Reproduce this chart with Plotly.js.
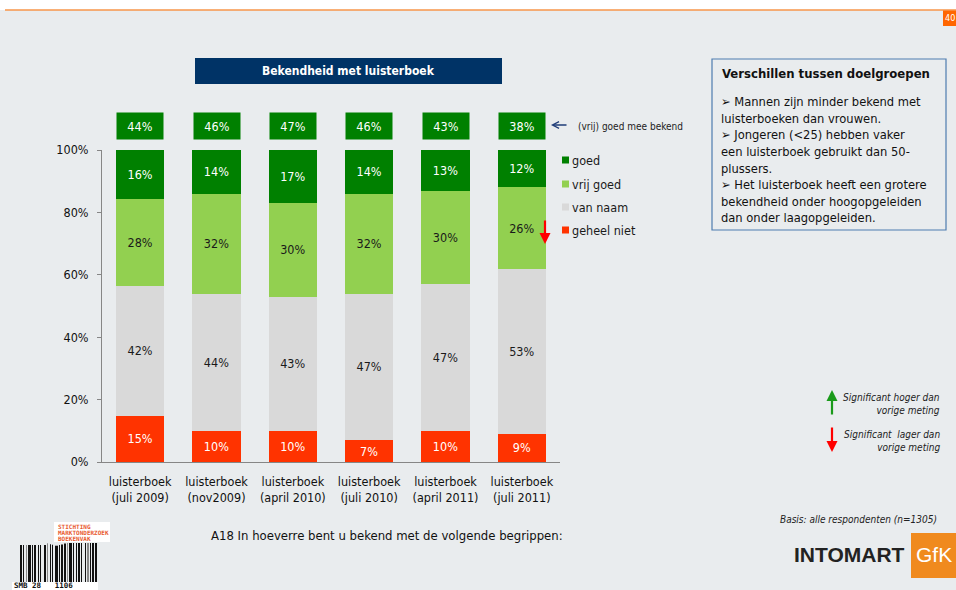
<!DOCTYPE html>
<html><head><meta charset="utf-8">
<script src="https://cdn.plot.ly/plotly-3.0.1.min.js"></script>
<style>html,body{margin:0;padding:0;background:#e9ecee;}#chart{width:956px;height:590px;}</style>
</head><body><div id="chart"></div>
<script>
// ---- data ----
const categories = ['luisterboek<br>(juli 2009)', 'luisterboek<br>(nov2009)', 'luisterboek<br>(april 2010)',
                    'luisterboek<br>(juli 2010)', 'luisterboek<br>(april 2011)', 'luisterboek<br>(juli 2011)'];
const geheelNiet = [15, 10, 10, 7, 10, 9];
const vanNaam    = [42, 44, 43, 47, 47, 53];
const vrijGoed   = [28, 32, 30, 32, 30, 26];
const goed       = [16, 14, 17, 14, 13, 12];
const seriesNames  = ['geheel niet', 'van naam', 'vrij goed', 'goed'];
const seriesValues = [geheelNiet, vanNaam, vrijGoed, goed];
const seriesColors = ['#ff3300', '#d9d9d9', '#92d050', '#008000'];
const textColors   = ['#ffffff', '#1a1a1a', '#1a1a1a', '#ffffff'];
const totals = goed.map((g, i) => g + vrijGoed[i]);   // (vrij) goed mee bekend
const yTickVals = [0, 20, 40, 60, 80, 100];
const yTickText = ['0%', '20%', '40%', '60%', '80%', '100%'];
const bullets = [
  '➢ Mannen zijn minder bekend met', 'luisterboeken dan vrouwen.',
  '➢ Jongeren (&lt;25) hebben vaker', 'een luisterboek gebruikt dan 50-', 'plussers.',
  '➢ Het luisterboek heeft een grotere', 'bekendheid onder hoogopgeleiden', 'dan onder laagopgeleiden.'
];

// ---- helpers (pixel -> paper) ----
const L = 102, R = 560, T = 150, B = 462;
const px = x => (x - L) / (R - L);
const py = y => (B - y) / (B - T);
const FONT = 'DejaVu Sans Condensed, DejaVu Sans, sans-serif';
const BG = '#e9ecee';

const traces = seriesNames.map((name, k) => ({
  type: 'bar', name: name, x: categories, y: seriesValues[k],
  text: seriesValues[k], texttemplate: '%{text}%',
  textposition: 'inside', insidetextanchor: 'middle', constraintext: 'none', textangle: 0,
  insidetextfont: {family: FONT, size: 12.5, color: textColors[k]},
  marker: {color: seriesColors[k], line: {width: 0}},
  hoverinfo: 'skip', showlegend: false
}));

const shapes = [];
const annotations = [];

// top band
shapes.push({type: 'rect', xref: 'paper', yref: 'paper', x0: px(-5), x1: px(960), y0: py(10), y1: py(-5), fillcolor: '#ffffff', line: {width: 0}});
shapes.push({type: 'line', xref: 'paper', yref: 'paper', x0: px(5), x1: px(960), y0: py(10), y1: py(10), line: {color: '#f7964a', width: 1.5}});
shapes.push({type: 'rect', xref: 'paper', yref: 'paper', x0: px(943), x1: px(960), y0: py(26), y1: py(10.5), fillcolor: '#ff6600', line: {width: 0}});
annotations.push({xref: 'paper', yref: 'paper', x: px(944), y: py(18), xanchor: 'left', text: '40', showarrow: false, borderpad: 0, font: {family: FONT, size: 9, color: '#ffffff'}});

// chart title box
shapes.push({type: 'rect', xref: 'paper', yref: 'paper', x0: px(195), x1: px(502), y0: py(84), y1: py(58), fillcolor: '#003366', line: {width: 0}});
annotations.push({xref: 'paper', yref: 'paper', x: px(348.5), y: py(71), text: '<b>Bekendheid met luisterboek</b>', showarrow: false, font: {family: FONT, size: 12, color: '#ffffff'}});

// total boxes above bars
categories.forEach((c, i) => {
  annotations.push({xref: 'x', yref: 'paper', x: c, y: py(125.5), text: totals[i] + '%', showarrow: false,
    bgcolor: '#008000', width: 46, height: 26, borderpad: 0, font: {family: FONT, size: 12.5, color: '#ffffff'}});
});
annotations.push({xref: 'paper', yref: 'paper', x: px(551), y: py(125), ax: 17, ay: 0, text: '', showarrow: true,
  arrowhead: 5, arrowsize: 1, arrowwidth: 1.3, arrowcolor: '#1f3c78'});
annotations.push({xref: 'paper', yref: 'paper', x: px(576), y: py(126), xanchor: 'left', text: '(vrij) goed mee bekend', showarrow: false,
  font: {family: FONT, size: 10, color: '#222222'}});

// red down arrow beside last bar
annotations.push({xref: 'paper', yref: 'paper', x: px(545), y: py(244), ax: 0, ay: -25, text: '', showarrow: true,
  arrowhead: 2, arrowsize: 1, arrowwidth: 2.2, arrowcolor: '#ff0000'});

// custom legend
const legendYs = [160, 184, 207, 230];
[3, 2, 1, 0].forEach((k, j) => {
  const yc = legendYs[j];
  shapes.push({type: 'rect', xref: 'paper', yref: 'paper', x0: px(562), x1: px(569), y0: py(yc + 3.5), y1: py(yc - 3.5), fillcolor: seriesColors[k], line: {width: 0}});
  annotations.push({xref: 'paper', yref: 'paper', x: px(570), y: py(yc), xanchor: 'left', text: seriesNames[k], showarrow: false,
    font: {family: FONT, size: 12.5, color: '#1a1a1a'}});
});

// right text box
shapes.push({type: 'rect', xref: 'paper', yref: 'paper', x0: px(712), x1: px(946), y0: py(230), y1: py(59), fillcolor: 'rgba(0,0,0,0)', line: {color: '#4f7cb0', width: 1.2}});
annotations.push({xref: 'paper', yref: 'paper', x: px(720), y: py(73), xanchor: 'left', text: '<b>Verschillen tussen doelgroepen</b>', showarrow: false,
  font: {family: FONT, size: 13, color: '#111111'}});
annotations.push({xref: 'paper', yref: 'paper', x: px(719), y: py(159), xanchor: 'left', align: 'left', text: bullets.join('<br>'), showarrow: false,
  font: {family: FONT, size: 12.8, color: '#111111'}});

// significance legend
annotations.push({xref: 'paper', yref: 'paper', x: px(832), y: py(390), ax: 0, ay: 26, text: '', showarrow: true,
  arrowhead: 2, arrowsize: 1, arrowwidth: 2.2, arrowcolor: '#1a9a1a'});
annotations.push({xref: 'paper', yref: 'paper', x: px(832), y: py(452), ax: 0, ay: -26, text: '', showarrow: true,
  arrowhead: 2, arrowsize: 1, arrowwidth: 2.2, arrowcolor: '#ff0000'});
annotations.push({xref: 'paper', yref: 'paper', x: px(942), y: py(404), xanchor: 'right', align: 'right', text: '<i>Significant hoger dan<br>vorige meting</i>', showarrow: false,
  font: {family: FONT, size: 10, color: '#222222'}});
annotations.push({xref: 'paper', yref: 'paper', x: px(942), y: py(441), xanchor: 'right', align: 'right', text: '<i>Significant  lager dan<br>vorige meting</i>', showarrow: false,
  font: {family: FONT, size: 10, color: '#222222'}});

// footer texts
annotations.push({xref: 'paper', yref: 'paper', x: px(939), y: py(519), xanchor: 'right', text: '<i>Basis: alle respondenten (n=1305)</i>', showarrow: false,
  font: {family: FONT, size: 10, color: '#222222'}});
annotations.push({xref: 'paper', yref: 'paper', x: px(209), y: py(535), xanchor: 'left', text: 'A18 In hoeverre bent u bekend met de volgende begrippen:', showarrow: false,
  font: {family: FONT, size: 13, color: '#111111'}});

// INTOMART GfK logo
annotations.push({xref: 'paper', yref: 'paper', x: px(906), y: py(554), xanchor: 'right', text: '<b>INTOMART</b>', showarrow: false, borderpad: 0,
  font: {family: 'Liberation Sans, Arial, sans-serif', size: 21, color: '#222222'}});
shapes.push({type: 'rect', xref: 'paper', yref: 'paper', x0: px(911), x1: px(960), y0: py(578), y1: py(533), fillcolor: '#f08a1e', line: {width: 0}});
annotations.push({xref: 'paper', yref: 'paper', x: px(933.5), y: py(554), text: 'GfK', showarrow: false, borderpad: 0,
  font: {family: 'Liberation Sans, Arial, sans-serif', size: 21, color: '#ffffff'}});

// Stichting Marktonderzoek Boekenvak logo
shapes.push({type: 'rect', xref: 'paper', yref: 'paper', x0: px(54), x1: px(110), y0: py(542), y1: py(522), fillcolor: '#ffffff', line: {width: 0}});
['STICHTING', 'MARKTONDERZOEK', 'BOEKENVAK'].forEach((w, i) => {
  annotations.push({xref: 'paper', yref: 'paper', x: px(57), y: py(526 + i * 6.3), xanchor: 'left', text: '<b>' + w + '</b>', showarrow: false,
    borderpad: 0, font: {family: 'DejaVu Sans Mono, monospace', size: 6, color: '#e85a30'}});
});
const stripe = [2,1,1,2,1,1,3,1,1,1,2,2,1,1,1,3,2,1,1,2,1,1,1,2,3,1,1,1,2,1,2,1,1,1,3,1,1,2,1,1,2,1,1,3,1,1,2,1,1,1,2,1,3,1,1,2];
let sx = 20, on = true;
stripe.forEach((w, i) => {
  if (on && sx < 97) {
    const mid = sx > 45 && sx < 67;
    const top = mid ? 542 + Math.abs(sx - 56) * -0.3 + 4 : (sx < 45 ? 545 : 543);
    const col = (i % 7 === 4) ? '#888888' : '#111111';
    shapes.push({type: 'rect', xref: 'paper', yref: 'paper', x0: px(sx), x1: px(Math.min(sx + w, 97)), y0: py(582), y1: py(top), fillcolor: col, line: {width: 0}});
  }
  sx += w; on = !on;
});
shapes.push({type: 'rect', xref: 'paper', yref: 'paper', x0: px(12), x1: px(98), y0: py(591), y1: py(582), fillcolor: '#ffffff', line: {width: 0}});
annotations.push({xref: 'paper', yref: 'paper', x: px(13), y: py(585.5), xanchor: 'left', text: '<b>SMB 28   1106</b>', showarrow: false,
  borderpad: 0, font: {family: 'DejaVu Sans Mono, monospace', size: 7.5, color: '#111111'}});

// anchor defaults: centre-anchored unless told otherwise
annotations.forEach(a => { if (!a.yanchor) a.yanchor = 'middle'; if (!a.xanchor) a.xanchor = 'center'; });

const layout = {
  width: 956, height: 590,
  margin: {l: L, r: 956 - R, t: T, b: 590 - B, pad: 0},
  paper_bgcolor: BG, plot_bgcolor: BG,
  barmode: 'stack', barnorm: 'percent', bargap: 0.37,
  showlegend: false,
  font: {family: FONT, color: '#111111'},
  xaxis: {type: 'category', showgrid: false, zeroline: false, showline: true, linecolor: '#868686', linewidth: 1,
    ticks: '', ticklabelstandoff: 8, tickfont: {family: FONT, size: 12.5, color: '#111111'}, fixedrange: true},
  yaxis: {range: [0, 100], tickvals: yTickVals, ticktext: yTickText, showgrid: false, zeroline: false, showline: true,
    linecolor: '#868686', linewidth: 1, ticks: 'outside', ticklen: 4, tickcolor: '#868686', ticklabelstandoff: 6,
    tickfont: {family: FONT, size: 12.5, color: '#111111'}, fixedrange: true},
  shapes: shapes, annotations: annotations
};

Plotly.newPlot('chart', traces, layout, {displayModeBar: false, staticPlot: true});
</script></body></html>
